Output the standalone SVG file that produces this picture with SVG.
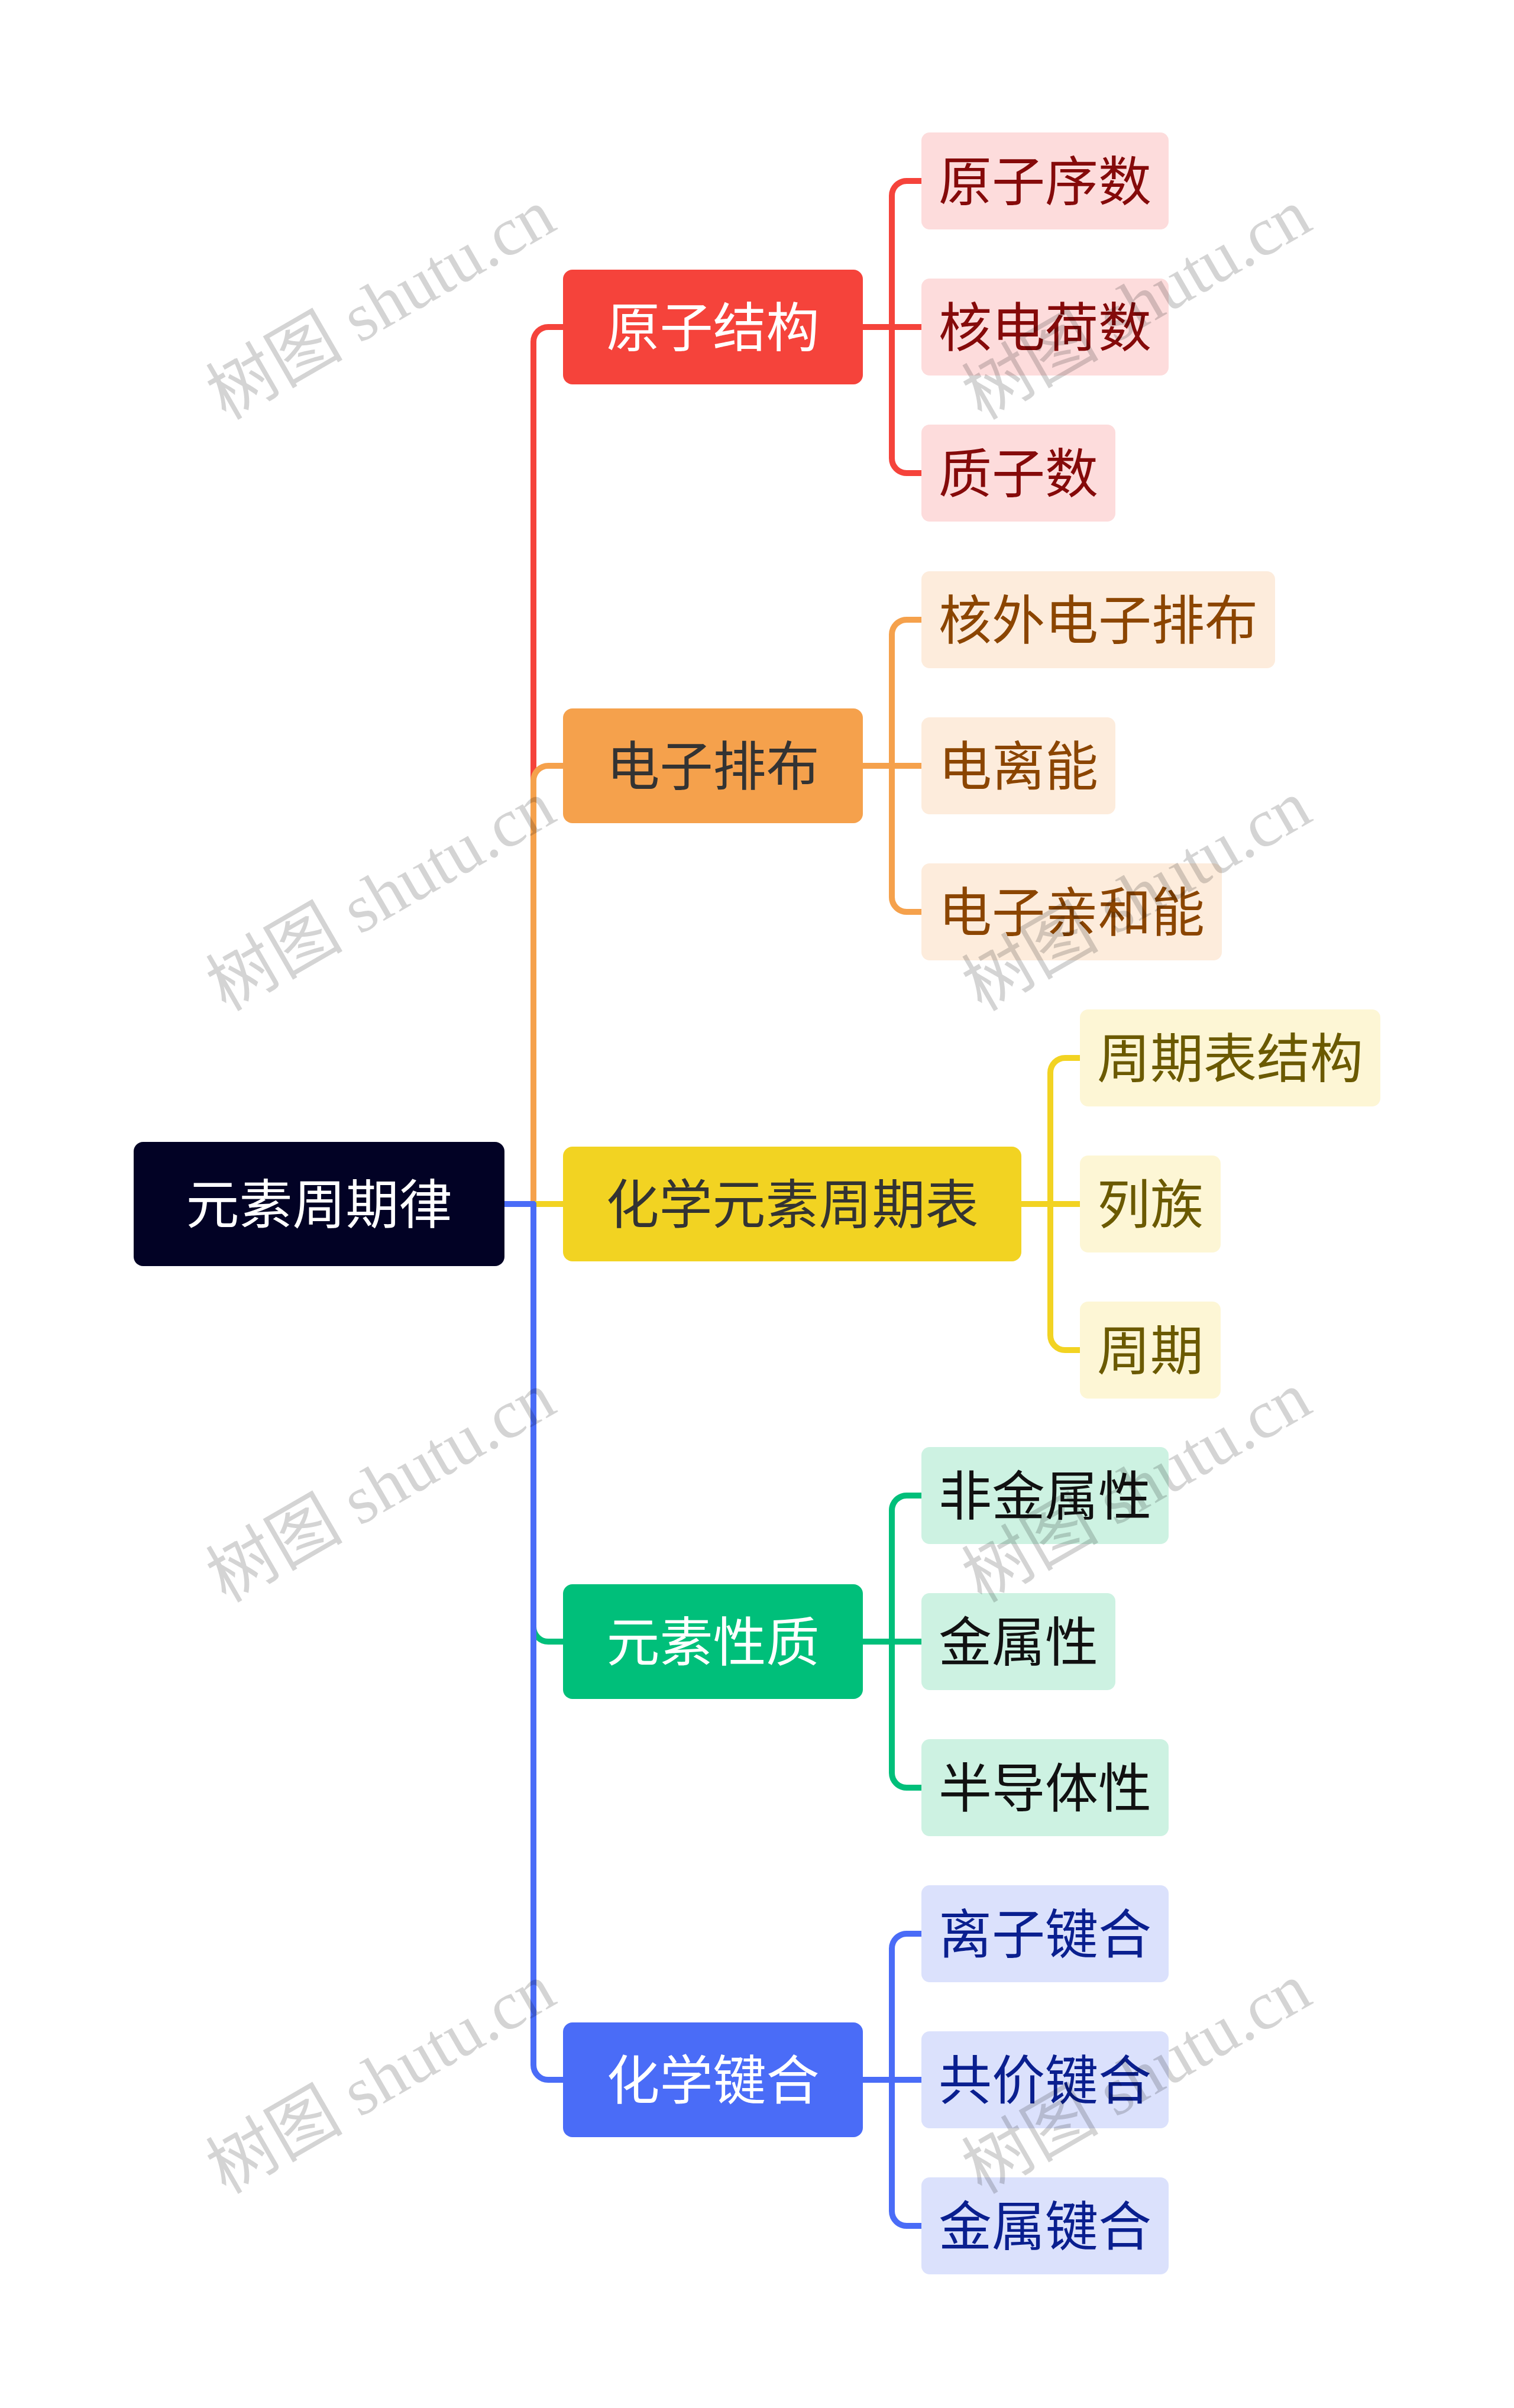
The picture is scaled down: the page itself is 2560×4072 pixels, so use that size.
<svg xmlns="http://www.w3.org/2000/svg" width="2560" height="4072" viewBox="0 0 2560 4072">
<style>
text{font-family:"Noto Sans CJK SC","Noto Sans",sans-serif;font-size:90px;text-anchor:middle;dominant-baseline:central}
.ln{fill:none;stroke-width:10;stroke-linejoin:round}
.wm{font-family:"Liberation Serif","Noto Sans CJK SC",serif;font-size:116px;fill:#000;fill-opacity:0.17}
</style>
<rect width="2560" height="4072" fill="#ffffff"/>
<g id="connectors">
<path class="ln" stroke="#f5433b" d="M853 2036H902V578A25 25 0 0 1 927 553H952"/>
<path class="ln" stroke="#f5a14c" d="M853 2036H902V1320A25 25 0 0 1 927 1295H952"/>
<path class="ln" stroke="#f2d322" d="M853 2036H952"/>
<path class="ln" stroke="#00bf7a" d="M853 2036H902V2751A25 25 0 0 0 927 2776H952"/>
<path class="ln" stroke="#4a6cf7" d="M853 2036H902V3492A25 25 0 0 0 927 3517H952"/>
<path class="ln" stroke="#f5433b" d="M1459 553H1508V331A25 25 0 0 1 1533 306H1558M1459 553H1558M1508 553V775A25 25 0 0 0 1533 800H1558"/>
<path class="ln" stroke="#f5a14c" d="M1459 1295H1508V1073A25 25 0 0 1 1533 1048H1558M1459 1295H1558M1508 1295V1517A25 25 0 0 0 1533 1542H1558"/>
<path class="ln" stroke="#f2d322" d="M1727 2036H1776V1814A25 25 0 0 1 1801 1789H1826M1727 2036H1826M1776 2036V2258A25 25 0 0 0 1801 2283H1826"/>
<path class="ln" stroke="#00bf7a" d="M1459 2776H1508V2554A25 25 0 0 1 1533 2529H1558M1459 2776H1558M1508 2776V2998A25 25 0 0 0 1533 3023H1558"/>
<path class="ln" stroke="#4a6cf7" d="M1459 3517H1508V3295A25 25 0 0 1 1533 3270H1558M1459 3517H1558M1508 3517V3739A25 25 0 0 0 1533 3764H1558"/>
</g>
<g id="root"><rect x="226" y="1931" width="627" height="210" rx="16" fill="#020225"/><text x="539.5" y="2030" fill="#ffffff">元素周期律</text></g>
<g id="n1"><rect x="952" y="456" width="507" height="194" rx="16" fill="#f5433b"/><text x="1205.5" y="547" fill="#ffffff">原子结构</text></g>
<g id="n2"><rect x="952" y="1198" width="507" height="194" rx="16" fill="#f5a14c"/><text x="1205.5" y="1289" fill="#333333">电子排布</text></g>
<g id="n3"><rect x="952" y="1939" width="775" height="194" rx="16" fill="#f2d322"/><text x="1339.5" y="2030" fill="#333333">化学元素周期表</text></g>
<g id="n4"><rect x="952" y="2679" width="507" height="194" rx="16" fill="#00bf7a"/><text x="1205.5" y="2770" fill="#ffffff">元素性质</text></g>
<g id="n5"><rect x="952" y="3420" width="507" height="194" rx="16" fill="#4a6cf7"/><text x="1205.5" y="3511" fill="#ffffff">化学键合</text></g>
<g id="n1a"><rect x="1558" y="224" width="418" height="164" rx="14" fill="#fddcdc"/><text x="1767" y="300" fill="#850a0a">原子序数</text></g>
<g id="n1b"><rect x="1558" y="471" width="418" height="164" rx="14" fill="#fddcdc"/><text x="1767" y="547" fill="#850a0a">核电荷数</text></g>
<g id="n1c"><rect x="1558" y="718" width="328" height="164" rx="14" fill="#fddcdc"/><text x="1722" y="794" fill="#850a0a">质子数</text></g>
<g id="n2a"><rect x="1558" y="966" width="598" height="164" rx="14" fill="#fdecdc"/><text x="1857" y="1042" fill="#8b4500">核外电子排布</text></g>
<g id="n2b"><rect x="1558" y="1213" width="328" height="164" rx="14" fill="#fdecdc"/><text x="1722" y="1289" fill="#8b4500">电离能</text></g>
<g id="n2c"><rect x="1558" y="1460" width="508" height="164" rx="14" fill="#fdecdc"/><text x="1812" y="1536" fill="#8b4500">电子亲和能</text></g>
<g id="n3a"><rect x="1826" y="1707" width="508" height="164" rx="14" fill="#fdf6d5"/><text x="2080" y="1783" fill="#6b5a00">周期表结构</text></g>
<g id="n3b"><rect x="1826" y="1954" width="238" height="164" rx="14" fill="#fdf6d5"/><text x="1945" y="2030" fill="#6b5a00">列族</text></g>
<g id="n3c"><rect x="1826" y="2201" width="238" height="164" rx="14" fill="#fdf6d5"/><text x="1945" y="2277" fill="#6b5a00">周期</text></g>
<g id="n4a"><rect x="1558" y="2447" width="418" height="164" rx="14" fill="#cdf2e2"/><text x="1767" y="2523" fill="#111111">非金属性</text></g>
<g id="n4b"><rect x="1558" y="2694" width="328" height="164" rx="14" fill="#cdf2e2"/><text x="1722" y="2770" fill="#111111">金属性</text></g>
<g id="n4c"><rect x="1558" y="2941" width="418" height="164" rx="14" fill="#cdf2e2"/><text x="1767" y="3017" fill="#111111">半导体性</text></g>
<g id="n5a"><rect x="1558" y="3188" width="418" height="164" rx="14" fill="#dbe1fc"/><text x="1767" y="3264" fill="#0a1f8f">离子键合</text></g>
<g id="n5b"><rect x="1558" y="3435" width="418" height="164" rx="14" fill="#dbe1fc"/><text x="1767" y="3511" fill="#0a1f8f">共价键合</text></g>
<g id="n5c"><rect x="1558" y="3682" width="418" height="164" rx="14" fill="#dbe1fc"/><text x="1767" y="3758" fill="#0a1f8f">金属键合</text></g>
<g id="watermarks">
<text class="wm" transform="translate(644 515) rotate(-30)">树图 shutu.cn</text>
<text class="wm" transform="translate(1922 515) rotate(-30)">树图 shutu.cn</text>
<text class="wm" transform="translate(644 1515) rotate(-30)">树图 shutu.cn</text>
<text class="wm" transform="translate(1922 1515) rotate(-30)">树图 shutu.cn</text>
<text class="wm" transform="translate(644 2515) rotate(-30)">树图 shutu.cn</text>
<text class="wm" transform="translate(1922 2515) rotate(-30)">树图 shutu.cn</text>
<text class="wm" transform="translate(644 3515) rotate(-30)">树图 shutu.cn</text>
<text class="wm" transform="translate(1922 3515) rotate(-30)">树图 shutu.cn</text>
</g>
</svg>
